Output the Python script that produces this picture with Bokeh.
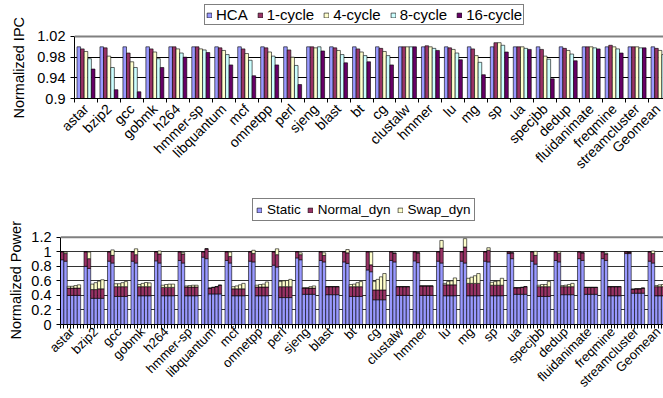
import math

from bokeh.embed import file_html
from bokeh.layouts import column
from bokeh.models import (ColumnDataSource, FixedTicker, Legend, LegendItem,
                          Range1d, Span, Title)
from bokeh.plotting import figure
from bokeh.resources import INLINE

# ---------------------------------------------------------------- data
benchmarks = ["astar", "bzip2", "gcc", "gobmk", "h264", "hmmer-sp",
              "libquantum", "mcf", "omnetpp", "perl", "sjeng", "blast", "bt",
              "cg", "clustalw", "hmmer", "lu", "mg", "sp", "ua", "specjbb",
              "dedup", "fluidanimate", "freqmine", "streamcluster", "Geomean"]

# normalized IPC per configuration
ipc_hca = [1.0, 1.0, 1.0, 1.0, 1.0, 1.0, 1.0, 1.0, 1.0, 1.0, 1.0, 1.0, 1.0,
           1.0, 1.0, 1.0, 1.0, 1.0, 1.0, 1.0, 1.0, 1.0, 1.0, 1.0, 1.0, 1.0]
ipc_1cyc = [0.996, 0.998, 0.988, 0.996, 1.0, 1.0, 0.998, 0.996, 0.998, 0.994,
            1.0, 0.998, 0.996, 0.997, 1.0, 1.002, 0.998, 0.996, 1.008, 1.0,
            0.995, 0.997, 1.0, 1.003, 1.0, 0.997]
ipc_4cyc = [0.991, 0.982, 0.971, 0.990, 0.996, 0.996, 0.993, 0.987, 0.990,
            0.980, 0.998, 0.993, 0.990, 0.991, 1.0, 1.0, 0.995, 0.983, 1.008,
            1.0, 0.982, 0.993, 1.0, 1.0, 1.0, 0.993]
ipc_8cyc = [0.977, 0.960, 0.960, 0.977, 0.988, 0.994, 0.985, 0.974, 0.982,
            0.964, 1.0, 0.985, 0.983, 0.983, 1.0, 0.997, 0.988, 0.970, 1.003,
            0.997, 0.976, 0.986, 0.998, 0.996, 0.998, 0.985]
ipc_16cyc = [0.957, 0.917, 0.913, 0.960, 0.980, 0.989, 0.965, 0.944, 0.965,
             0.927, 0.992, 0.969, 0.971, 0.965, 1.0, 0.993, 0.975, 0.946,
             0.990, 0.995, 0.938, 0.973, 0.996, 0.988, 0.998, 0.965]
ipc_names = ["HCA", "1-cycle", "4-cycle", "8-cycle", "16-cycle"]
ipc_colors = ["#9999FF", "#993366", "#FFFFCC", "#CCFFFF", "#660066"]
ipc_ticks = [0.9, 0.94, 0.98, 1.02]
ipc_tick_labels = ["0.9", "0.94", "0.98", "1.02"]

# normalized power, six bars per benchmark, three stacked components
static_base = [0.89, 0.80, 0.87, 0.87, 0.875, 0.88, 0.925, 0.88, 0.87, 0.815,
               0.915, 0.88, 0.86, 0.75, 0.88, 0.875, 0.87, 0.87, 0.87, 0.975,
               0.87, 0.88, 0.905, 0.905, 0.975, 0.87]
normal_base = [0.11, 0.20, 0.13, 0.13, 0.125, 0.12, 0.075, 0.12, 0.13, 0.185,
               0.085, 0.12, 0.14, 0.25, 0.12, 0.125, 0.13, 0.13, 0.13, 0.025,
               0.13, 0.12, 0.095, 0.095, 0.025, 0.13]
swap_base = [0.0, 0.0, 0.0, 0.0, 0.0, 0.0, 0.0, 0.0, 0.0, 0.0, 0.0, 0.0, 0.0,
             0.0, 0.0, 0.0, 0.0, 0.0, 0.0, 0.0, 0.0, 0.0, 0.0, 0.0, 0.0, 0.0]

static_hca = [0.87, 0.77, 0.845, 0.845, 0.845, 0.845, 0.905, 0.845, 0.86, 0.79,
              0.89, 0.86, 0.84, 0.725, 0.86, 0.85, 0.845, 0.845, 0.86, 0.905,
              0.83, 0.86, 0.88, 0.88, 0.975, 0.845]
normal_hca = [0.105, 0.135, 0.105, 0.115, 0.125, 0.125, 0.135, 0.09, 0.115,
              0.17, 0.07, 0.09, 0.145, 0.095, 0.12, 0.135, 0.205, 0.22, 0.16,
              0.08, 0.12, 0.12, 0.105, 0.09, 0.02, 0.13]
swap_hca = [0.02, 0.09, 0.075, 0.08, 0.04, 0.02, 0.0, 0.06, 0.045, 0.08, 0.025,
            0.035, 0.045, 0.175, 0.0, 0.0, 0.105, 0.115, 0.035, 0.0, 0.055,
            0.025, 0.0, 0.01, 0.0, 0.035]

static_short = [0.40, 0.36, 0.385, 0.395, 0.395, 0.395, 0.42, 0.395, 0.395,
                0.37, 0.415, 0.41, 0.385, 0.34, 0.40, 0.40, 0.395, 0.395,
                0.395, 0.415, 0.385, 0.41, 0.415, 0.395, 0.43, 0.395]
normal_1cyc = [0.10, 0.12, 0.135, 0.125, 0.115, 0.12, 0.08, 0.095, 0.12, 0.15,
               0.085, 0.11, 0.135, 0.135, 0.12, 0.13, 0.15, 0.17, 0.145, 0.09,
               0.135, 0.11, 0.095, 0.125, 0.055, 0.125]
normal_4cyc = [0.10, 0.12, 0.135, 0.125, 0.115, 0.12, 0.09, 0.095, 0.12, 0.15,
               0.085, 0.11, 0.135, 0.135, 0.12, 0.13, 0.15, 0.17, 0.145, 0.09,
               0.135, 0.11, 0.095, 0.125, 0.06, 0.125]
normal_8cyc = [0.10, 0.13, 0.135, 0.125, 0.115, 0.12, 0.10, 0.095, 0.12, 0.15,
               0.085, 0.11, 0.135, 0.135, 0.12, 0.13, 0.15, 0.17, 0.145, 0.095,
               0.135, 0.11, 0.095, 0.125, 0.06, 0.125]
normal_16cyc = [0.10, 0.13, 0.135, 0.125, 0.115, 0.12, 0.12, 0.095, 0.12,
                0.15, 0.085, 0.11, 0.135, 0.135, 0.12, 0.13, 0.15, 0.17, 0.145,
                0.105, 0.135, 0.11, 0.095, 0.125, 0.07, 0.125]
swap_1cyc = [0.025, 0.075, 0.04, 0.03, 0.03, 0.015, 0.0, 0.03, 0.025, 0.07,
             0.005, 0.0, 0.03, 0.115, 0.0, 0.0, 0.02, 0.07, 0.04, 0.0, 0.02,
             0.015, 0.0, 0.0, 0.0, 0.015]
swap_4cyc = [0.025, 0.095, 0.04, 0.045, 0.04, 0.02, 0.0, 0.04, 0.035, 0.08,
             0.005, 0.0, 0.035, 0.145, 0.0, 0.0, 0.045, 0.085, 0.05, 0.0, 0.03,
             0.02, 0.0, 0.0, 0.0, 0.025]
swap_8cyc = [0.035, 0.105, 0.055, 0.057, 0.045, 0.025, 0.0, 0.055, 0.04,
             0.085, 0.02, 0.0, 0.055, 0.18, 0.0, 0.0, 0.055, 0.105, 0.06, 0.0,
             0.03, 0.03, 0.0, 0.0, 0.0, 0.03]
swap_16cyc = [0.045, 0.125, 0.07, 0.052, 0.045, 0.025, 0.0, 0.075, 0.07, 0.10,
              0.03, 0.0, 0.07, 0.225, 0.0, 0.0, 0.095, 0.135, 0.095, 0.0, 0.07,
              0.045, 0.0, 0.0, 0.0, 0.04]
power_names = ["Static", "Normal_dyn", "Swap_dyn"]
power_colors = ["#9999FF", "#993366", "#FFFFCC"]
power_ticks = [0, 0.2, 0.4, 0.6, 0.8, 1, 1.2]
power_tick_labels = ["0", "0.2", "0.4", "0.6", "0.8", "1", "1.2"]

# ---------------------------------------------------------------- style
FONT = "Liberation Sans"
N = len(benchmarks)
W = 663


def style_axes(p, yticks, ylabels, minor_x, xlabel_size, xlabel_standoff):
    yax = p.yaxis[0]
    yax.ticker = FixedTicker(ticks=yticks)
    yax.bounds = (yticks[0], yticks[-1])
    yax.major_label_overrides = dict(zip(yticks, ylabels))
    yax.major_label_text_font = FONT
    yax.major_label_text_font_size = "14.5px"
    yax.major_label_text_color = "black"
    yax.major_label_standoff = 5
    yax.major_tick_out = 4
    yax.major_tick_in = 0
    yax.minor_tick_out = 0
    yax.minor_tick_in = 0
    yax.axis_line_color = "black"
    yax.major_tick_line_color = "black"

    xax = p.xaxis[0]
    xax.ticker = FixedTicker(ticks=[g + 0.5 for g in range(N)],
                             minor_ticks=minor_x)
    xax.major_label_overrides = {g + 0.5: b for g, b in enumerate(benchmarks)}
    xax.major_label_orientation = math.pi / 4
    xax.major_label_text_font = FONT
    xax.major_label_text_font_size = xlabel_size
    xax.major_label_text_color = "black"
    xax.major_label_standoff = xlabel_standoff
    xax.major_tick_out = 0
    xax.major_tick_in = 0
    xax.minor_tick_out = 4
    xax.minor_tick_in = 0
    xax.minor_tick_line_color = "black"
    xax.axis_line_color = "black"

    p.xgrid.visible = False
    p.outline_line_color = None
    p.background_fill_color = "white"
    p.border_fill_color = "white"
    # each chart keeps its own plotting-area edges inside the column
    if "frame_align" in p.properties():
        p.frame_align = False


def add_value_title(p, text, offset, standoff):
    """Vertical title left of the value axis, placed along its 0..top span."""
    p.add_layout(Title(text=text, align="left", offset=offset,
                       standoff=standoff, text_font=FONT,
                       text_font_size="14.5px", text_font_style="normal",
                       text_color="black"), "left")


def add_legend(p, renderers, names, loc, size, standoff, spacing, padding):
    leg = Legend(items=[LegendItem(label=nm, renderers=[r])
                        for nm, r in zip(names, renderers)],
                 location=loc, orientation="horizontal",
                 border_line_color="black", border_line_width=1,
                 background_fill_color="white", background_fill_alpha=1,
                 label_text_font=FONT, label_text_font_size=size,
                 label_text_color="black", glyph_width=6, glyph_height=6,
                 label_standoff=standoff, spacing=spacing, padding=padding,
                 margin=0, label_height=10)
    p.add_layout(leg)


# ---------------------------------------------------------------- IPC chart
# the plotting area reaches up to the legend; the value axis stops at 1.02
p1 = figure(width=W, height=190, x_range=Range1d(0, 25.65),
            y_range=Range1d(ipc_ticks[0], 1.0819),
            output_backend="svg", toolbar_location=None,
            min_border_left=73, min_border_right=0,
            min_border_top=4, min_border_bottom=92)
style_axes(p1, ipc_ticks, ipc_tick_labels, list(range(N + 1)), "14px", 4)
add_value_title(p1, "Normalized IPC", -20, 16)
p1.ygrid.ticker = FixedTicker(ticks=ipc_ticks[1:-1])
p1.ygrid.grid_line_color = "black"
p1.ygrid.grid_line_width = 1
p1.add_layout(Span(location=ipc_ticks[-1], dimension="width",
                   line_color="#808080", line_width=2))

bar_w = 0.1565
ipc_renderers = []
for k, vals in enumerate([ipc_hca, ipc_1cyc, ipc_4cyc, ipc_8cyc, ipc_16cyc]):
    src = ColumnDataSource(dict(x=[g + 0.5 + (k - 2) * bar_w for g in range(N)],
                                top=vals))
    ipc_renderers.append(
        p1.vbar(x="x", top="top", bottom=ipc_ticks[0], width=bar_w, source=src,
                fill_color=ipc_colors[k], line_color="black", line_width=0.6))
add_legend(p1, ipc_renderers, ipc_names, (130, 73), "15px", 4, 9, 1)

# ---------------------------------------------------------------- power chart
p2 = figure(width=W, height=208, x_range=Range1d(0, 25.66),
            y_range=Range1d(power_ticks[0], 1.7727),
            output_backend="svg", toolbar_location=None,
            min_border_left=60, min_border_right=0,
            min_border_top=5, min_border_bottom=73)
style_axes(p2, power_ticks, power_tick_labels,
           [g + j / 7 for g in range(N) for j in range(7)] + [N], "13px", 1)
add_value_title(p2, "Normalized Power", -15, 10)
p2.ygrid.ticker = FixedTicker(ticks=power_ticks[1:-1])
p2.ygrid.grid_line_color = "#333333"
p2.ygrid.grid_line_width = 1
p2.add_layout(Span(location=power_ticks[-1], dimension="width",
                   line_color="#808080", line_width=2))

slot_static = [static_base, static_hca, static_short, static_short,
               static_short, static_short]
slot_normal = [normal_base, normal_hca, normal_1cyc, normal_4cyc, normal_8cyc,
               normal_16cyc]
slot_swap = [swap_base, swap_hca, swap_1cyc, swap_4cyc, swap_8cyc, swap_16cyc]

cols = dict(x=[], static=[], normal=[], swap=[])
for k in range(6):
    for g in range(N):
        cols["x"].append(g + (k + 0.5) / 7)
        cols["static"].append(slot_static[k][g])
        cols["normal"].append(slot_normal[k][g])
        cols["swap"].append(slot_swap[k][g])
psrc = ColumnDataSource(cols)
stack = p2.vbar_stack(["static", "normal", "swap"], x="x", width=1 / 7,
                      source=psrc, fill_color=power_colors,
                      line_color="black", line_width=0.6)
add_legend(p2, stack, power_names, (192, 103), "13.5px", 5, 6, 3)

layout = column(p1, p2, spacing=0)
open("out.html", "w").write(file_html(layout, INLINE))
